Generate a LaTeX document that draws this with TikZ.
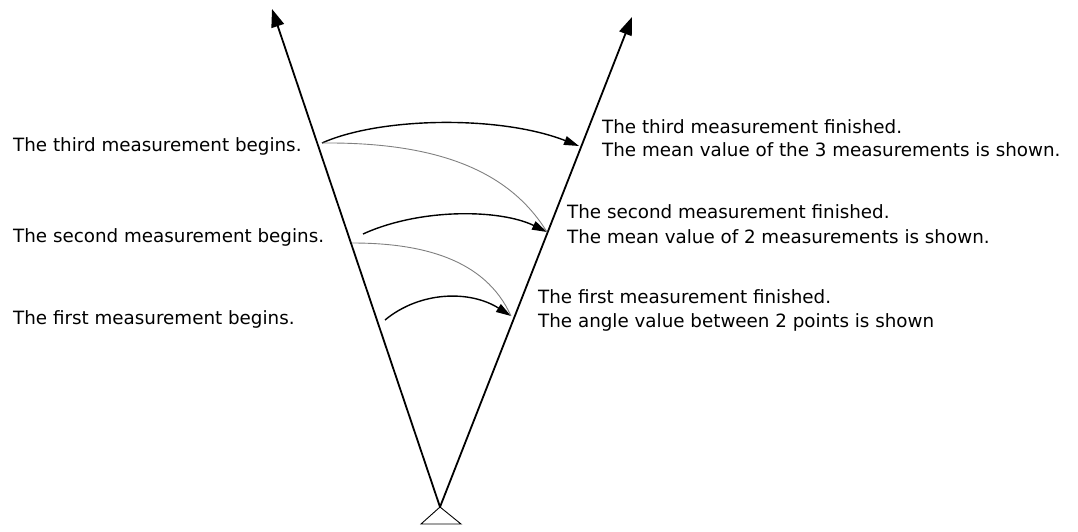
\documentclass[tikz,border=0pt]{standalone}
\usepackage{fontspec}
\setmainfont{DejaVu Sans}
\usetikzlibrary{arrows.meta}
\begin{document}
\begin{tikzpicture}[x=1pt,y=-1pt,
  lbl/.style={anchor=base west,inner sep=0pt,font=\fontsize{18.3}{22}\selectfont},
  ray/.style={line width=1.8pt,-{Triangle[length=18pt,width=13pt]}},
  arcarrow/.style={line width=1.4pt,-{Triangle[length=15pt,width=9pt]}},
  link/.style={line width=0.9pt,gray}]
\useasboundingbox (0,0) rectangle (1078,532);
% station and rays
\coordinate (apex) at (440,507);
\coordinate (ltip) at (272,9);
\coordinate (rtip) at (632,17);
\draw[ray] (apex) -- (ltip);
\draw[ray] (apex) -- (rtip);
\draw[line width=0.9pt] (apex) -- (421,524) -- (461,524) -- cycle;
% points on the rays
\coordinate (b3) at (322,143);
\coordinate (b2) at (363,234);
\coordinate (b2g) at (352,243);
\coordinate (b1) at (385,320);
\coordinate (f3) at (579,146);
\coordinate (f2) at (547,232);
\coordinate (f1) at (511,316);
% measurement arcs
\draw[arcarrow] (b3) .. controls (380,117) and (500,115) .. (f3);
\draw[arcarrow] (b2) .. controls (420,208) and (500,209) .. (f2);
\draw[arcarrow] (b1) .. controls (420,291) and (470,290) .. (f1);
% grey links
\draw[link] (b3) .. controls (440,142) and (510,172) .. (f2);
\draw[link] (b2g) .. controls (420,243) and (485,258) .. (f1);
% labels
\node[lbl] (t3) at (13,151) {The third measurement begins.};
\node[lbl] (t2) at (13,242) {The second measurement begins.};
\node[lbl] (t1) at (13,324) {The first measurement begins.};
\node[lbl] (e3a) at (602,133) {The third measurement finished.};
\node[lbl] (e3b) at (602,157) {The mean value of the 3 measurements is shown.};
\node[lbl] (e2a) at (567,218) {The second measurement finished.};
\node[lbl] (e2b) at (567,243) {The mean value of 2 measurements is shown.};
\node[lbl] (e1a) at (538,303) {The first measurement finished.};
\node[lbl] (e1b) at (538,327) {The angle value between 2 points is shown};
\end{tikzpicture}
\end{document}
